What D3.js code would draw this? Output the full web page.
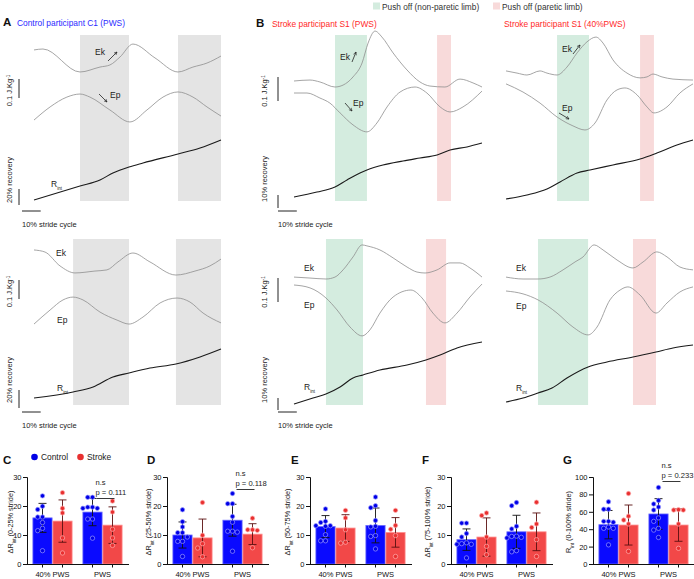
<!DOCTYPE html>
<html><head><meta charset="utf-8">
<script src="https://cdn.jsdelivr.net/npm/d3@7"></script>
<style>
body{margin:0;background:#fff}
svg{display:block;font-family:"Liberation Sans",Arial,Helvetica,sans-serif}
</style>
</head><body>
<svg id="c" width="694" height="579"></svg>
<script>
// ================= DATA =================
// Energy curves: [stride cycle %, energy J/kg (offset)], Rint: [stride cycle %, recovery %]
const A1_Ek = [[0,0.795],[4.8,0.800],[24.6,0.679],[35.3,0.705],[40.6,0.716],[46,0.758],[52.9,0.826],[64.7,0.753],[77,0.679],[85,0.705],[92.5,0.726],[100,0.763]];
const A1_Ep = [[0,0.426],[8.6,0.495],[17.6,0.547],[24.6,0.563],[29.9,0.547],[40.6,0.479],[51.3,0.416],[60.4,0.479],[69.0,0.547],[77.0,0.574],[85.0,0.547],[92.5,0.495],[100,0.447]];
const A1_R  = [[0,0],[24.6,17.5],[35.3,25],[42.2,33.75],[50.8,41.25],[58.3,46.25],[77,57.5],[88.8,65],[100,75]];

const A2_Ek = [[0,0.816],[5.9,0.805],[13.9,0.732],[21.9,0.695],[32.6,0.705],[39.0,0.711],[44.9,0.753],[52.9,0.8],[62.0,0.753],[75.9,0.684],[86.1,0.705],[94.1,0.732],[100,0.768]];
const A2_Ep = [[0,0.426],[8.6,0.5],[15.5,0.553],[20.9,0.568],[26.2,0.553],[35.3,0.489],[44.4,0.447],[50.8,0.426],[58.3,0.463],[67.4,0.537],[76.5,0.563],[83.4,0.542],[90.4,0.484],[100,0.432]];
const A2_R  = [[0,0],[20.9,6.7],[31.6,12.2],[42.2,23.3],[50.8,27.8],[62.0,33.3],[75.9,37.8],[88.8,45.6],[100,54.4]];

const B1_Ek = [[0,0.5],[8.5,0.504],[13.8,0.496],[21.8,0.475],[26.1,0.483],[31.4,0.517],[36.2,0.575],[39.4,0.658],[43.1,0.708],[46.8,0.683],[52.7,0.617],[60.1,0.546],[67.0,0.496],[72.3,0.479],[80.3,0.475],[88.3,0.508],[95.2,0.492],[100,0.475]];
const B1_Ep = [[0,0.45],[6.9,0.45],[13.8,0.429],[19.1,0.408],[24.5,0.367],[31.4,0.317],[38.8,0.288],[44.1,0.325],[49.5,0.392],[56.4,0.454],[64.4,0.475],[70.7,0.45],[77.7,0.392],[83.0,0.371],[89.9,0.392],[100,0.458]];
const B1_R  = [[0,0],[12.2,3.8],[21.8,7.7],[28.2,13.1],[35.1,18.5],[38.8,20.8],[47.3,24.6],[58.0,27.7],[67.0,30.0],[76.1,32.3],[83.0,36.2],[92.0,38.5],[100,41.5]];

const B2_Ek = [[0,0.533],[8.5,0.529],[17.0,0.525],[21.8,0.533],[26.1,0.563],[31.4,0.617],[36.2,0.667],[38.8,0.663],[45.7,0.646],[52.7,0.613],[60.1,0.575],[65.4,0.554],[69.7,0.55],[76.1,0.563],[83.0,0.592],[88.3,0.592],[93.6,0.571],[100,0.533]];
const B2_Ep = [[0,0.5],[8.5,0.488],[17.0,0.446],[22.9,0.396],[29.8,0.325],[36.2,0.288],[40.4,0.313],[45.7,0.383],[52.7,0.45],[62.2,0.479],[68.1,0.446],[73.9,0.383],[80.3,0.342],[86.7,0.383],[93.6,0.45],[100,0.504]];
const B2_R  = [[0,0],[10.1,5],[17.0,8.3],[24.5,14.2],[31.4,21.7],[36.7,24.2],[45.7,28.3],[60.1,32.5],[70.2,36.7],[77.7,40.8],[86.7,46.7],[100,51.7]];

const B3_Ek = [[0,0.542],[5.9,0.533],[11.2,0.525],[18.2,0.542],[21.9,0.533],[27.3,0.525],[32.6,0.558],[38.0,0.617],[43.3,0.663],[48.1,0.683],[51.9,0.658],[57.2,0.588],[64.7,0.533],[71.7,0.513],[75.4,0.517],[78.6,0.529],[83.4,0.517],[89.3,0.508],[100,0.504]];
const B3_Ep = [[0,0.488],[9.1,0.454],[18.2,0.408],[27.3,0.35],[35.8,0.313],[42.2,0.296],[47.6,0.325],[54.0,0.421],[59.4,0.463],[63.6,0.471],[70.1,0.442],[75.4,0.392],[79.1,0.367],[86.1,0.392],[93.0,0.45],[100,0.488]];
const B3_R  = [[0,0],[11.2,3.1],[21.9,7.7],[28.9,13.1],[38.0,20.0],[44.9,22.3],[57.2,26.2],[71.7,30.8],[80.7,35.4],[91.4,41.5],[100,45.4]];

const B4_Ek = [[0,0.533],[9.1,0.525],[17.1,0.525],[23.5,0.533],[30.5,0.563],[36.9,0.596],[41.2,0.617],[47.1,0.667],[51.9,0.646],[59.4,0.604],[67.9,0.571],[73.3,0.596],[80.7,0.638],[86.1,0.617],[93.0,0.575],[100,0.563]];
const B4_Ep = [[0,0.475],[9.1,0.463],[17.1,0.438],[27.3,0.383],[35.8,0.325],[43.9,0.292],[48.7,0.325],[55.6,0.438],[61.0,0.479],[65.2,0.492],[71.7,0.458],[80.2,0.383],[86.1,0.425],[93.0,0.471],[100,0.492]];
const B4_R  = [[0,0],[9.1,3.3],[17.1,7.5],[24.6,11.7],[32.6,20],[43.9,29.2],[54.0,33.3],[67.9,37.5],[80.2,41.7],[89.3,45],[100,47.5]];

// Push-off phases: [start %, end %, type]
const A1_bands = [[24.6,50.8,"ctrl"],[77,100,"ctrl"]];
const A2_bands = [[20.9,50.8,"ctrl"],[75.9,100,"ctrl"]];
const B1_bands = [[21.8,38.8,"np"],[76.1,83.5,"p"]];
const B2_bands = [[17.0,36.7,"np"],[70.2,80.9,"p"]];
const B3_bands = [[27.3,44.4,"np"],[71.7,79.1,"p"]];
const B4_bands = [[17.1,43.9,"np"],[67.9,80.2,"p"]];

// Bar charts
const groups = ["40% PWS","PWS"];
const C_ctrlMean=[15.9,17.9], C_strMean=[14.8,13.4], C_ctrlSD=[5.0,4.7], C_strSD=[7.3,6.3];
const C_ctrlPts=[[23.5,19.9,18.8,16.2,16.2,14.3,12.3,11.5,4.6],[23.0,23.0,19.6,19.2,19.6,19.2,15.5,15.5,8.9]];
const C_strPts=[[24.6,19.2,17.6,9.0,3.8],[21.7,17.9,12.0,9.0,6.4]];
const D_ctrlMean=[10.0,15.1], D_strMean=[9.0,10.3], D_ctrlSD=[4.5,5.5], D_strSD=[6.5,3.6];
const D_ctrlPts=[[18.7,14.6,12.8,10.8,10.8,9.3,7.8,7.8,2.6],[24.3,20.8,20.8,16.4,14.4,11.3,11.0,11.3,4.4]];
const D_strPts=[[21.2,9.9,7.0,5.5,2.5],[15.8,11.8,11.6,11.8,5.6]];
const E_ctrlMean=[12.9,13.3], E_strMean=[12.4,10.9], E_ctrlSD=[3.8,6.0], E_strSD=[4.6,5.1];
const E_ctrlPts=[[19.0,14.7,14.3,13.2,13.0,13.2,10.1,8.0,8.0],[23.1,20.1,19.4,15.0,13.0,12.8,9.5,9.8,5.2]];
const E_strPts=[[18.5,15.9,11.8,7.5,7.2],[18.5,13.3,12.0,9.8,2.6]];
const F_ctrlMean=[8.4,11.1], F_strMean=[9.3,11.1], F_ctrlSD=[3.7,5.7], F_strSD=[6.6,6.5];
const F_ctrlPts=[[14.1,14.1,10.5,9.3,7.0,6.8,6.8,7.3,2.1],[21.2,20.1,13.0,12.1,9.5,9.0,9.2,9.6,4.6,4.2]];
const F_strPts=[[17.6,16.7,9.3,6.1,3.2],[21.3,13.8,12.6,8.4,2.6]];
const G_ctrlMean=[45.2,57.5], G_strMean=[44.8,44.8], G_ctrlSD=[16.3,17.6], G_strSD=[23,18.7];
const G_ctrlPts=[[71.5,63,63,49,49,48,41,41,42.5,22],[88,73,69,62,65.5,53,49,41,39,30.5]];
const G_strPts=[[81,55,50.5,46,14.5],[62,62,62.5,46,18]];
const ticks30=[0,10,20,30], ticks100=[0,20,40,60,80,100];

// ================= DRAWING =================
const svg = d3.select("#c");
const FONT = "'Liberation Sans',Arial,sans-serif";
const bandColor = {ctrl:"#e4e4e4", np:"#d4ecdf", p:"#f8dada"};
const BLUE="#0a0aff", RED="#f24848";

svg.append("defs").append("marker").attr("id","arr").attr("viewBox","0 0 8 8")
  .attr("refX",7).attr("refY",4).attr("markerWidth",5).attr("markerHeight",5).attr("orient","auto")
  .append("path").attr("d","M1,1 L7,4 L1,7").attr("fill","none").attr("stroke","#222").attr("stroke-width",1.2);

function rotText(x,y,parts,size){
  const t = svg.append("text").attr("transform",`translate(${x},${y}) rotate(-90)`)
    .attr("text-anchor","middle").attr("font-size",size).attr("fill","#222");
  parts.forEach(p=>{
    const s=t.append("tspan").text(p.t);
    if(p.sub){s.attr("font-size",size*0.62).attr("baseline-shift","sub");}
    if(p.sup){s.attr("font-size",size*0.62).attr("baseline-shift","super");}
  });
  return t;
}
function label(x,y,main,sub,size){
  const t=svg.append("text").attr("x",x).attr("y",y).attr("font-size",size||8.5).attr("fill","#222");
  t.append("tspan").text(main);
  if(sub) t.append("tspan").text(sub).attr("font-size",4.5).attr("baseline-shift","sub");
}
function arrow(x1,y1,x2,y2){
  svg.append("line").attr("x1",x1).attr("y1",y1).attr("x2",x2).attr("y2",y2)
    .attr("stroke","#222").attr("stroke-width",0.8).attr("marker-end","url(#arr)");
}

function curvePanel(p){
  const g = svg.append("g");
  const x = d3.scaleLinear().domain([0,100]).range([p.x0,p.x1]);
  const yE = d3.scaleLinear().domain([0,1]).range([p.yBot,p.yBot-p.ePerJ]);
  const yR = d3.scaleLinear().domain([0,100]).range([p.rBase,p.rBase-100*p.rPx]);
  g.selectAll("rect").data(p.bands).join("rect")
    .attr("x",d=>x(d[0])).attr("width",d=>x(d[1])-x(d[0]))
    .attr("y",p.yTop).attr("height",p.yBot-p.yTop).attr("fill",d=>bandColor[d[2]]);
  const lE = d3.line().x(d=>x(d[0])).y(d=>yE(d[1])).curve(d3.curveMonotoneX);
  const lR = d3.line().x(d=>x(d[0])).y(d=>yR(d[1])).curve(d3.curveMonotoneX);
  g.append("path").attr("d",lE(p.ek)).attr("fill","none").attr("stroke","#8e8e8e").attr("stroke-width",0.8);
  g.append("path").attr("d",lE(p.ep)).attr("fill","none").attr("stroke","#8e8e8e").attr("stroke-width",0.8);
  g.append("path").attr("d",lR(p.r)).attr("fill","none").attr("stroke","#1a1a1a").attr("stroke-width",1.1);
  if(p.bars){
    const b=p.bars;
    const eLen = yE(0)-yE(0.1), rLen = yR(0)-yR(b.rPct), hLen = x(10)-x(0);
    g.append("line").attr("x1",b.x).attr("x2",b.x).attr("y1",b.eTop).attr("y2",b.eTop+eLen).attr("stroke","#222").attr("stroke-width",1);
    g.append("line").attr("x1",b.x).attr("x2",b.x).attr("y1",b.rBot-rLen).attr("y2",b.rBot).attr("stroke","#222").attr("stroke-width",1);
    g.append("line").attr("x1",b.hx).attr("x2",b.hx+hLen).attr("y1",b.hy).attr("y2",b.hy).attr("stroke","#222").attr("stroke-width",1);
    rotText(b.tx, b.eTop+eLen/2+2, [{t:"0.1 J.Kg"},{t:"-1",sup:true}], 7.5);
    rotText(b.tx, b.rTextY, [{t:b.rPct+"% recovery"}], 7.5);
    svg.append("text").attr("x",b.hx).attr("y",b.hy+16).attr("font-size",7.5).attr("fill","#222").text("10% stride cycle");
  }
  p.labels.forEach(l=>label(l[0],l[1],l[2],l[3]));
  (p.arrows||[]).forEach(a=>arrow(...a));
}

curvePanel({x0:34,x1:221,yTop:35,yBot:201,ePerJ:190,rBase:200,rPx:0.8,bands:A1_bands,ek:A1_Ek,ep:A1_Ep,r:A1_R,
  bars:{x:19,eTop:79,rPct:20,rBot:205,hx:22,hy:211,tx:12,rTextY:180},
  labels:[[95,55,"Ek"],[110,98,"Ep"],[51,187,"R","int"]],
  arrows:[[108,61,117,52],[99,94,107,102]]});
curvePanel({x0:34,x1:221,yTop:239,yBot:405,ePerJ:190,rBase:398,rPx:0.9,bands:A2_bands,ek:A2_Ek,ep:A2_Ep,r:A2_R,
  bars:{x:19,eTop:280,rPct:20,rBot:408,hx:22,hy:412,tx:12,rTextY:380},
  labels:[[56,256,"Ek"],[57,323,"Ep"],[57,391,"R","int"]]});
curvePanel({x0:294,x1:482,yTop:35,yBot:201,ePerJ:240,rBase:197,rPx:1.3,bands:B1_bands,ek:B1_Ek,ep:B1_Ep,r:B1_R,
  bars:{x:278,eTop:77,rPct:10,rBot:208,hx:278,hy:211,tx:267,rTextY:179},
  labels:[[340,60,"Ek"],[353,106,"Ep"]],
  arrows:[[352,62,356,52],[345,103,352,111]]});
curvePanel({x0:294,x1:482,yTop:239,yBot:405,ePerJ:240,rBase:404,rPx:1.2,bands:B2_bands,ek:B2_Ek,ep:B2_Ep,r:B2_R,
  bars:{x:278,eTop:278,rPct:10,rBot:410,hx:278,hy:412,tx:267,rTextY:380},
  labels:[[304,271,"Ek"],[304,308,"Ep"],[304,390,"R","int"]]});
curvePanel({x0:506,x1:693,yTop:35,yBot:201,ePerJ:240,rBase:199,rPx:1.3,bands:B3_bands,ek:B3_Ek,ep:B3_Ep,r:B3_R,
  labels:[[562,52,"Ek"],[562,111,"Ep"]],
  arrows:[[573,54,580,45],[559,113,569,119]]});
curvePanel({x0:506,x1:693,yTop:239,yBot:405,ePerJ:240,rBase:402,rPx:1.2,bands:B4_bands,ek:B4_Ek,ep:B4_Ep,r:B4_R,
  labels:[[516,271,"Ek"],[516,309,"Ep"],[516,391,"R","int"]]});

// titles
function title(letter,lx,tx,y,text,color){
  svg.append("text").attr("x",lx).attr("y",y).attr("font-size",11.5).attr("font-weight","bold").attr("fill","#111").text(letter);
  if(text) svg.append("text").attr("x",tx).attr("y",y).attr("font-size",8.4).attr("fill",color).text(text);
}
title("A",3,17,26,"Control participant C1 (PWS)","#2b2bff");
title("B",256,272,27,"Stroke participant S1 (PWS)","#ff2a2a");
svg.append("text").attr("x",504).attr("y",27).attr("font-size",8.4).attr("fill","#ff2a2a").text("Stroke participant S1 (40%PWS)");
// legend top
svg.append("rect").attr("x",373).attr("y",2.5).attr("width",7).attr("height",7).attr("fill",bandColor.np);
svg.append("text").attr("x",382).attr("y",9.5).attr("font-size",8.3).attr("fill","#333").text("Push off (non-paretic limb)");
svg.append("rect").attr("x",493).attr("y",2.5).attr("width",7).attr("height",7).attr("fill",bandColor.p);
svg.append("text").attr("x",502).attr("y",9.5).attr("font-size",8.3).attr("fill","#333").text("Push off (paretic limb)");

// ================= BAR CHARTS =================
function beeswarm(ys, r){
  const placed=[]; const order = ys.map((y,i)=>[y,i]).sort((a,b)=>a[0]-b[0]);
  const offs=[0,-1,1,-2,2,-3,3].map(k=>k*(2*r+0.4));
  const res=new Array(ys.length);
  order.forEach(([y,i])=>{
    for(const o of offs){
      if(placed.every(p=>Math.hypot(p[0]-o,p[1]-y)>=2*r+0.2)){placed.push([o,y]);res[i]=o;break;}
    }
    if(res[i]===undefined){res[i]=0;}
  });
  return res;
}

function barPanel(p){
  const g=svg.append("g");
  const y=d3.scaleLinear().domain([0,p.yMax]).range([564,477]);
  const xg=d3.scalePoint().domain(groups).range([p.ax+25.5,p.ax+75.5]);
  const bw=20;
  const ya=d3.axisLeft(y).tickValues(p.ticks).tickSize(4).tickPadding(1.5);
  const ga=g.append("g").attr("transform",`translate(${p.ax},0)`).call(ya);
  ga.selectAll("text").attr("font-size",7.5).attr("font-family",FONT).attr("fill","#111");
  ga.selectAll("path,line").attr("stroke","#111");
  const series=[];
  groups.forEach((gr,gi)=>{
    series.push({cx:xg(gr)-bw/2, mean:p.cm[gi], sd:p.cs[gi], pts:p.cp[gi], fill:BLUE, edge:"#6a6aff", dot:"#0000e6", ring:"#9a9aff", err:"#111"});
    series.push({cx:xg(gr)+bw/2, mean:p.sm[gi], sd:p.ss[gi], pts:p.sp[gi], fill:RED, edge:"#ff9090", dot:"#e83030", ring:"#ffb0b0", err:"#5a1010"});
  });
  series.forEach(s=>{
    g.append("rect").attr("x",s.cx-bw/2+0.4).attr("width",bw-0.8).attr("y",y(s.mean)).attr("height",y(0)-y(s.mean))
      .attr("fill",s.fill).attr("stroke",s.edge).attr("stroke-width",0.8);
  });
  series.forEach(s=>{
    const lo=y(s.mean-s.sd), hi=y(s.mean+s.sd);
    g.append("line").attr("x1",s.cx).attr("x2",s.cx).attr("y1",Math.min(lo,y(0))).attr("y2",hi).attr("stroke",s.err).attr("stroke-width",0.9);
    g.append("line").attr("x1",s.cx-4).attr("x2",s.cx+4).attr("y1",hi).attr("y2",hi).attr("stroke",s.err).attr("stroke-width",0.9);
    g.append("line").attr("x1",s.cx-4).attr("x2",s.cx+4).attr("y1",lo).attr("y2",lo).attr("stroke",s.err).attr("stroke-width",0.9);
    const ys=s.pts.map(v=>y(v)); const off=beeswarm(ys,2.2);
    g.selectAll(null).data(s.pts).join("circle").attr("cx",(d,i)=>s.cx+off[i]).attr("cy",d=>y(d)).attr("r",2.2)
      .attr("fill",s.dot).attr("stroke",s.ring).attr("stroke-width",0.7);
  });
  g.append("line").attr("x1",p.ax).attr("x2",p.ax+102).attr("y1",564.5).attr("y2",564.5).attr("stroke","#111");
  series.forEach(s=>g.append("line").attr("x1",s.cx).attr("x2",s.cx).attr("y1",564.5).attr("y2",567.5).attr("stroke","#111"));
  groups.forEach(gr=>g.append("text").attr("x",xg(gr)).attr("y",577).attr("text-anchor","middle").attr("font-size",7.5).attr("fill","#111").text(gr));
  rotText(p.tx,522,p.title,7.3);
  svg.append("text").attr("x",p.lx).attr("y",464).attr("font-size",11.5).attr("font-weight","bold").attr("fill","#111").text(p.letter);
  if(p.pval){
    const cx=xg("PWS");
    g.append("text").attr("x",cx-7).attr("y",p.sy).attr("font-size",7.6).attr("fill","#222").text("n.s");
    g.append("text").attr("x",cx-7).attr("y",p.sy+10).attr("font-size",7.6).attr("fill","#222").text("p = "+p.pval);
    g.append("line").attr("x1",cx-6).attr("x2",cx+12).attr("y1",p.sy+13.5).attr("y2",p.sy+13.5).attr("stroke","#222").attr("stroke-width",0.9);
  }
}

barPanel({ax:27,yMax:30,ticks:ticks30,cm:C_ctrlMean,cs:C_ctrlSD,sm:C_strMean,ss:C_strSD,cp:C_ctrlPts,sp:C_strPts,
  tx:13,title:[{t:"ΔR"},{t:"int",sub:true},{t:" (0-25% stride)"}],lx:3,letter:"C",pval:"0.111",sy:485});
barPanel({ax:167,yMax:30,ticks:ticks30,cm:D_ctrlMean,cs:D_ctrlSD,sm:D_strMean,ss:D_strSD,cp:D_ctrlPts,sp:D_strPts,
  tx:151,title:[{t:"ΔR"},{t:"int",sub:true},{t:" (25-50% stride)"}],lx:147,letter:"D",pval:"0.118",sy:476});
barPanel({ax:310,yMax:30,ticks:ticks30,cm:E_ctrlMean,cs:E_ctrlSD,sm:E_strMean,ss:E_strSD,cp:E_ctrlPts,sp:E_strPts,
  tx:290,title:[{t:"ΔR"},{t:"int",sub:true},{t:" (50-75% stride)"}],lx:291,letter:"E"});
barPanel({ax:451,yMax:30,ticks:ticks30,cm:F_ctrlMean,cs:F_ctrlSD,sm:F_strMean,ss:F_strSD,cp:F_ctrlPts,sp:F_strPts,
  tx:430,title:[{t:"ΔR"},{t:"int",sub:true},{t:" (75-100% stride)"}],lx:422,letter:"F"});
barPanel({ax:593,yMax:100,ticks:ticks100,cm:G_ctrlMean,cs:G_ctrlSD,sm:G_strMean,ss:G_strSD,cp:G_ctrlPts,sp:G_strPts,
  tx:571,title:[{t:"R"},{t:"int",sub:true},{t:" (0-100% stride)"}],lx:563,letter:"G",pval:"0.233",sy:468});

// legend bottom
svg.append("circle").attr("cx",34.5).attr("cy",457).attr("r",3.3).attr("fill","#0000e6");
svg.append("text").attr("x",41).attr("y",460).attr("font-size",8.4).attr("fill","#222").text("Control");
svg.append("circle").attr("cx",80.5).attr("cy",457).attr("r",3.3).attr("fill","#e83030");
svg.append("text").attr("x",87).attr("y",460).attr("font-size",8.4).attr("fill","#222").text("Stroke");
</script>
</body></html>
